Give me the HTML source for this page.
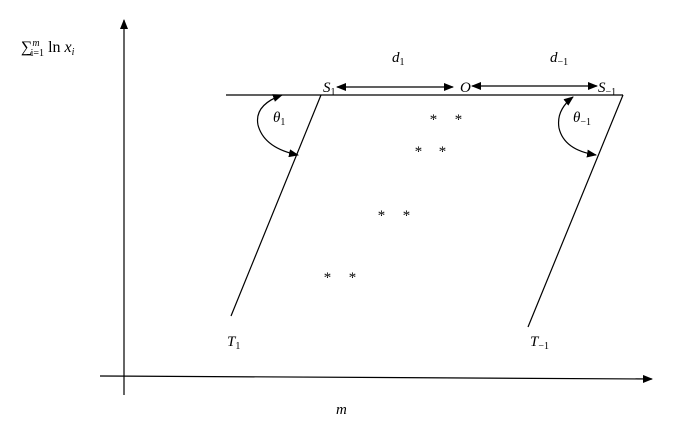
<!DOCTYPE html>
<html><head><style>body{margin:0;background:#fff}svg{display:block}text{font-family:"Liberation Serif",serif;font-style:italic;font-size:15px;fill:#000}</style></head><body>
<svg width="689" height="430" viewBox="0 0 689 430">
<defs><marker id="a" markerWidth="10" markerHeight="8" refX="9" refY="4" orient="auto-start-reverse" markerUnits="userSpaceOnUse"><path d="M0,0L10,4L0,8z" fill="#000"/></marker></defs>
<g stroke="#000" stroke-width="1.2" fill="none">
<line x1="124" y1="395" x2="124" y2="20" marker-end="url(#a)"/>
<line x1="100" y1="376" x2="652" y2="379" marker-end="url(#a)"/>
<line x1="226" y1="95" x2="623" y2="95"/>
<line x1="321" y1="95" x2="231" y2="316"/>
<line x1="623" y1="95" x2="528" y2="327"/>
<line x1="337" y1="87" x2="453" y2="87" marker-start="url(#a)" marker-end="url(#a)"/>
<line x1="472" y1="86" x2="597" y2="86" marker-start="url(#a)" marker-end="url(#a)"/>
<path d="M282,95 Q254,105 258,125 Q264,148 298,155" marker-start="url(#a)" marker-end="url(#a)"/>
<path d="M573,97 Q556,110 559,128 Q564,150 596,155" marker-start="url(#a)" marker-end="url(#a)"/>
</g>
<text x="21" y="52" style="font-style:normal;font-size:16px">∑<tspan font-size="10" dy="-6" font-style="italic">m</tspan><tspan font-size="10" dy="10" dx="-9">i=1</tspan><tspan dy="-4"> ln </tspan><tspan font-style="italic">x</tspan><tspan font-size="10" dy="3" font-style="italic">i</tspan></text>
<text x="392" y="62">d<tspan font-size="10" dy="3" font-style="normal">1</tspan></text>
<text x="550" y="62">d<tspan font-size="10" dy="3" font-style="normal">−1</tspan></text>
<text x="323" y="92">S<tspan font-size="10" dy="3" font-style="normal">1</tspan></text>
<text x="460" y="92">O</text>
<text x="598" y="92">S<tspan font-size="10" dy="3" font-style="normal">−1</tspan></text>
<text x="273" y="122">θ<tspan font-size="10" dy="3" font-style="normal">1</tspan></text>
<text x="573" y="122">θ<tspan font-size="10" dy="3" font-style="normal">−1</tspan></text>
<text x="227" y="346">T<tspan font-size="10" dy="3" font-style="normal">1</tspan></text>
<text x="530" y="346">T<tspan font-size="10" dy="3" font-style="normal">−1</tspan></text>
<text x="336" y="414">m</text>
<g style="font-style:normal;font-size:12px">
<text x="429" y="124">*</text><text x="454" y="124">*</text>
<text x="414" y="156">*</text><text x="438" y="156">*</text>
<text x="377" y="220">*</text><text x="402" y="220">*</text>
<text x="323" y="282">*</text><text x="348" y="282">*</text>
</g>
</svg>
</body></html>
